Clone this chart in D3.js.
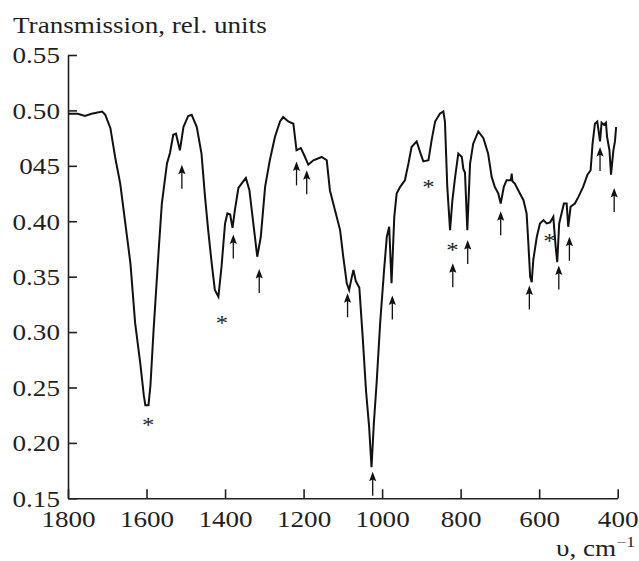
<!DOCTYPE html>
<html>
<head>
<meta charset="utf-8">
<script src="https://cdn.jsdelivr.net/npm/d3@7"></script>
<style>
body { margin: 0; background: #fff; }
svg text { font-family: "Liberation Serif", "Times New Roman", serif; fill: #231f20; }
</style>
</head>
<body>
<svg id="spectrum" width="639" height="561"></svg>
<script>
// IR spectrum, values
const wavenumber = [1800, 1775, 1757, 1740, 1713, 1705, 1692, 1680, 1667, 1654, 1641, 1629, 1616, 1607, 1603, 1595,
    1590, 1582, 1569, 1561, 1548, 1540, 1532, 1525, 1515, 1506, 1494, 1485, 1472, 1460, 1451, 1443, 1434, 1426,
    1417, 1409, 1400, 1394, 1387, 1381, 1375, 1366, 1358, 1347, 1338, 1328, 1318, 1309, 1298, 1286, 1273, 1260,
    1252, 1239, 1226, 1218, 1207, 1199, 1188, 1175, 1154, 1141, 1133, 1120, 1107, 1099, 1090, 1084, 1077, 1073,
    1067, 1058, 1049, 1041, 1033, 1027, 1021, 1014, 1005, 995, 988, 982, 976, 969, 963, 954, 942, 933, 925, 912,
    902, 895, 882, 874, 865, 853, 844, 840, 834, 827, 821, 814, 806, 797, 793, 789, 783, 776, 768, 755, 742, 730,
    721, 713, 704, 698, 690, 683, 672, 670, 668, 662, 649, 640, 632, 628, 623, 619, 615, 606, 598, 589, 581, 572,
    564, 558, 554, 549, 543, 537, 530, 526, 520, 509, 500, 488, 477, 469, 464, 458, 452, 445, 441, 435, 430, 427,
    421, 417, 411, 407, 404];
const transmission = [0.497, 0.497, 0.495, 0.497, 0.499, 0.496, 0.484, 0.458, 0.434, 0.398, 0.362, 0.308, 0.272, 0.243, 0.234, 0.234,
    0.252, 0.302, 0.374, 0.416, 0.452, 0.462, 0.478, 0.479, 0.464, 0.485, 0.495, 0.496, 0.485, 0.461, 0.422, 0.392, 0.362, 0.338,
    0.332, 0.359, 0.398, 0.407, 0.406, 0.394, 0.410, 0.430, 0.434, 0.439, 0.428, 0.398, 0.368, 0.386, 0.431, 0.455, 0.476, 0.490,
    0.494, 0.490, 0.488, 0.464, 0.466, 0.460, 0.451, 0.455, 0.458, 0.455, 0.428, 0.410, 0.392, 0.368, 0.344, 0.338, 0.350, 0.356,
    0.346, 0.340, 0.293, 0.247, 0.214, 0.178, 0.218, 0.254, 0.308, 0.356, 0.386, 0.395, 0.344, 0.404, 0.425, 0.431, 0.437, 0.452, 0.467, 0.472,
    0.461, 0.454, 0.455, 0.473, 0.490, 0.497, 0.499, 0.490, 0.431, 0.392, 0.419, 0.440, 0.461, 0.458, 0.447, 0.444, 0.392, 0.452, 0.470, 0.481, 0.475, 0.461,
    0.440, 0.431, 0.425, 0.416, 0.431, 0.437, 0.437, 0.443, 0.436, 0.434, 0.425, 0.419, 0.407, 0.383, 0.350, 0.345, 0.365, 0.386, 0.398, 0.401, 0.398, 0.399,
    0.404, 0.377, 0.363, 0.398, 0.407, 0.416, 0.416, 0.395, 0.413, 0.416, 0.422, 0.431, 0.442, 0.446, 0.470, 0.488, 0.490, 0.472, 0.489, 0.487, 0.489, 0.476,
    0.464, 0.442, 0.464, 0.472, 0.485];

const xTicks = [1800, 1600, 1400, 1200, 1000, 800, 600, 400];
const yTicks = [0.15, 0.20, 0.25, 0.30, 0.35, 0.40, 0.45, 0.50, 0.55];
const yTickLabels = ['0.15', '0.20', '0.25', '0.30', '0.35', '0.40', '045', '0.50', '0.55'];

// marked bands: arrow tips and asterisks
const arrowBands = [1510, 1379, 1313, 1218, 1192, 1088, 1024, 974, 820, 782, 698, 625, 550, 523, 445, 409];
const arrowTips = [0.451, 0.388, 0.357, 0.454, 0.446, 0.335, 0.174, 0.333, 0.362, 0.383, 0.409, 0.342, 0.360, 0.386, 0.467, 0.430];
const starBands = [1596, 1408, 882, 821, 574];
const starValues = [0.219, 0.311, 0.434, 0.377, 0.385];

const fontSize = 23;
const stretch = 1.18;

const svg = d3.select('#spectrum');
const x = d3.scaleLinear().domain([1800, 400]).range([68, 617.7]);
const y = d3.scaleLinear().domain([0.15, 0.55]).range([498.3, 55]);

const xAxis = d3.axisBottom(x)
    .tickValues(xTicks)
    .tickSizeInner(-9)
    .tickSizeOuter(0)
    .tickFormat(d3.format('d'));
const yAxis = d3.axisLeft(y)
    .tickValues(yTicks)
    .tickSizeInner(-9)
    .tickSizeOuter(0)
    .tickFormat((d, i) => yTickLabels[i]);

const gx = svg.append('g')
    .attr('transform', `translate(0, ${y(0.15)})`)
    .call(xAxis);
gx.selectAll('text')
    .attr('y', 0)
    .attr('dy', 0)
    .attr('transform', `translate(0, 29) scale(${stretch}, 1)`);

const gy = svg.append('g')
    .attr('transform', `translate(${x(1800)}, 0)`)
    .call(yAxis);
gy.selectAll('text')
    .attr('x', 0)
    .attr('dy', '0.34em')
    .attr('transform', `translate(-8, 0) scale(${stretch}, 1)`);

svg.selectAll('.tick text')
    .style('font-size', fontSize + 'px')
    .style('font-family', '"Liberation Serif", serif')
    .attr('fill', '#231f20');
svg.selectAll('.domain, .tick line')
    .attr('stroke', '#231f20')
    .attr('stroke-width', 1.6);

// spectrum
const points = wavenumber.map((w, i) => [w, transmission[i]]);
const line = d3.line()
    .x(d => x(d[0]))
    .y(d => y(d[1]));
svg.append('path')
    .datum(points)
    .attr('fill', 'none')
    .attr('stroke', '#111')
    .attr('stroke-width', 2)
    .attr('stroke-linejoin', 'miter')
    .attr('d', line);

// arrows
const arrows = svg.selectAll('.arrow')
    .data(arrowBands.map((w, i) => [w, arrowTips[i]]))
    .enter()
    .append('g')
    .attr('class', 'arrow')
    .attr('transform', d => `translate(${x(d[0])}, ${y(d[1])})`);
arrows.append('line')
    .attr('x1', 0).attr('x2', 0)
    .attr('y1', 6).attr('y2', 24)
    .attr('stroke', '#111')
    .attr('stroke-width', 1.3);
arrows.append('path')
    .attr('d', 'M0,0 L-3.6,9.5 L0,7.8 L3.6,9.5 Z')
    .attr('fill', '#111');

// asterisks
svg.selectAll('.star')
    .data(starBands.map((w, i) => [w, starValues[i]]))
    .enter()
    .append('text')
    .attr('class', 'star')
    .attr('text-anchor', 'middle')
    .style('font-size', '21px')
    .attr('fill', '#444')
    .attr('transform', d => `translate(${x(d[0])}, ${y(d[1]) + 10}) scale(${stretch}, 1)`)
    .text('*');

// axis titles
svg.append('text')
    .attr('transform', `translate(13, 33) scale(${stretch}, 1)`)
    .style('font-size', fontSize + 'px')
    .text('Transmission, rel. units');

const xTitle = svg.append('text')
    .attr('text-anchor', 'end')
    .attr('transform', `translate(635, 556) scale(${stretch}, 1)`)
    .style('font-size', fontSize + 'px');
xTitle.append('tspan').text('υ, cm');
xTitle.append('tspan')
    .attr('dy', -9)
    .style('font-size', '15px')
    .text('−1');
</script>
</body>
</html>
